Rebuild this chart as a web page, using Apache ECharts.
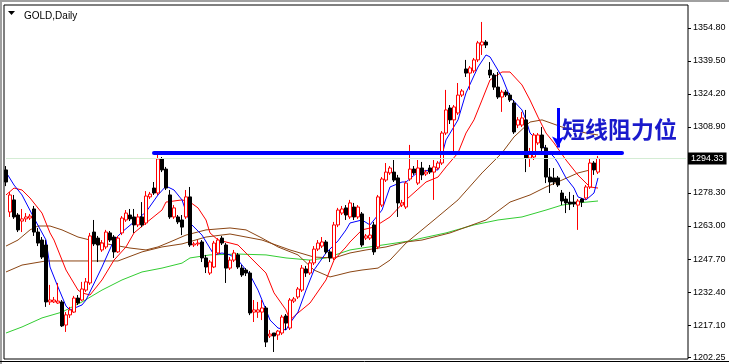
<!DOCTYPE html>
<html>
<head>
<meta charset="utf-8">
<script src="https://cdn.jsdelivr.net/npm/echarts@6/dist/echarts.min.js"></script>
<style>html,body{margin:0;padding:0;background:#fff;}#c{width:729px;height:364px;}</style>
</head>
<body>
<div id="c"></div>
<script>
// ---- data ----
const title = 'GOLD,Daily';
const annotation = '短线阻力位';
const currentPrice = 1294.33;
const resistance = 1297.1;
const arrowFrom = 1317.7;
const arrowTo = 1299.4;
const tickValues = [1202.25, 1217.10, 1232.40, 1247.70, 1263.00, 1278.30, 1308.90, 1324.20, 1339.50, 1354.80];
const slotCount = 171;
const categories = Array.from({length: slotCount}, (_, i) => 'D' + (i + 1));

// [open, close, low, high]
const candles = [
[1289.0,1283.4,1281.5,1290.8],[1269.5,1277.4,1267.2,1278.8],[1275.1,1267.2,1266.3,1277.4],[1268.1,1261.2,1260.2,1269.0],
[1265.3,1266.3,1260.2,1270.9],[1266.3,1267.2,1264.9,1269.0],[1266.7,1267.6,1265.8,1268.6],[1270.9,1260.2,1258.4,1272.3],
[1260.2,1255.1,1253.7,1262.1],[1256.5,1248.6,1247.7,1257.9],[1254.2,1227.8,1225.5,1256.5],[1227.8,1228.7,1226.4,1235.7],
[1227.8,1228.7,1227.3,1230.1],[1227.3,1228.2,1226.9,1236.6],[1227.8,1216.7,1216.2,1228.7],[1217.1,1221.8,1213.9,1223.1],
[1221.8,1224.1,1220.4,1225.5],[1223.1,1229.6,1222.7,1230.6],[1229.6,1227.3,1226.4,1231.0],[1228.7,1233.8,1228.2,1237.1],
[1233.3,1237.1,1232.4,1238.9],[1236.6,1258.4,1235.7,1259.8],[1260.2,1254.7,1253.7,1265.8],[1257.4,1254.2,1246.3,1258.4],
[1251.9,1255.1,1251.0,1256.5],[1253.3,1260.2,1252.3,1261.2],[1259.8,1256.5,1255.6,1260.7],[1257.9,1251.0,1248.2,1258.8],
[1251.0,1257.4,1250.5,1258.4],[1259.8,1266.7,1258.8,1267.6],[1265.8,1269.0,1264.9,1270.4],[1268.1,1266.3,1265.3,1270.9],
[1267.2,1263.5,1259.8,1270.9],[1263.5,1267.2,1262.5,1268.6],[1267.2,1263.5,1262.5,1274.1],[1264.4,1276.9,1263.5,1279.2],
[1276.5,1277.8,1275.5,1278.8],[1280.6,1278.3,1277.4,1283.4],[1278.3,1294.1,1277.4,1296.9],[1294.1,1289.0,1288.0,1295.0],
[1289.4,1280.6,1279.7,1290.4],[1277.4,1267.2,1266.3,1279.7],[1267.2,1271.4,1266.3,1272.7],[1267.2,1264.9,1263.9,1268.1],
[1265.8,1262.5,1258.8,1268.1],[1267.2,1276.5,1266.3,1279.7],[1276.5,1254.2,1253.3,1281.1],[1254.2,1254.7,1253.3,1255.6],
[1254.7,1255.1,1253.7,1256.5],[1255.6,1248.2,1246.3,1256.5],[1248.2,1244.0,1241.2,1249.6],[1241.2,1246.3,1240.3,1247.2],
[1244.0,1255.1,1243.5,1256.1],[1250.5,1256.5,1249.6,1257.4],[1257.4,1255.1,1254.2,1258.4],[1254.2,1243.5,1236.6,1255.1],
[1243.5,1247.2,1242.6,1248.6],[1247.2,1250.5,1246.3,1251.9],[1249.6,1244.0,1243.1,1250.5],[1243.5,1240.3,1239.4,1244.9],
[1242.6,1241.2,1239.8,1243.5],[1241.2,1222.7,1221.7,1242.1],[1223.1,1224.1,1218.5,1228.7],[1223.1,1224.1,1220.4,1227.8],
[1223.1,1225.0,1219.4,1228.7],[1225.0,1209.2,1206.9,1225.9],[1212.0,1212.9,1211.1,1214.8],[1213.4,1212.0,1204.6,1213.4],
[1212.5,1214.3,1210.2,1214.8],[1213.4,1220.8,1212.5,1221.8],[1221.3,1218.0,1214.8,1222.2],[1215.7,1228.7,1214.8,1229.6],
[1228.2,1229.2,1227.3,1230.1],[1230.1,1233.8,1229.2,1234.7],[1233.3,1243.5,1232.4,1244.9],[1243.1,1241.2,1239.4,1244.5],
[1241.2,1245.9,1240.3,1247.2],[1245.9,1252.3,1244.9,1253.7],[1252.3,1255.1,1251.4,1256.5],[1253.7,1255.6,1252.8,1257.9],
[1255.6,1251.0,1250.0,1256.5],[1251.0,1248.2,1246.3,1251.9],[1248.2,1263.5,1247.2,1264.9],[1263.5,1270.4,1262.5,1271.4],
[1269.0,1270.9,1268.1,1272.3],[1271.4,1268.1,1265.8,1272.7],[1267.2,1273.7,1266.3,1275.1],[1271.8,1267.2,1265.8,1273.7],
[1267.2,1271.8,1266.3,1272.7],[1268.6,1254.2,1253.3,1269.5],[1257.4,1258.4,1256.5,1259.3],[1257.4,1258.8,1256.5,1267.2],
[1263.5,1251.0,1249.6,1264.9],[1253.3,1276.5,1252.3,1277.4],[1272.7,1284.8,1271.8,1285.7],[1284.3,1288.0,1283.4,1292.2],
[1287.6,1289.9,1286.7,1290.8],[1288.0,1284.3,1283.4,1293.6],[1285.3,1273.7,1267.2,1286.7],[1272.7,1273.7,1271.8,1275.1],
[1271.8,1282.9,1270.9,1283.9],[1284.8,1289.4,1283.9,1300.6],[1289.4,1287.6,1286.7,1290.8],[1282.9,1289.9,1282.0,1293.6],
[1289.9,1286.7,1284.3,1292.7],[1287.1,1288.0,1286.2,1289.0],[1289.9,1288.0,1287.1,1291.3],[1288.0,1290.4,1275.1,1293.6],
[1289.9,1292.2,1289.0,1293.1],[1292.2,1306.1,1291.3,1307.0],[1306.1,1316.8,1305.2,1326.1],[1317.7,1312.2,1310.3,1319.1],
[1312.2,1318.2,1296.9,1319.1],[1315.4,1323.7,1314.5,1329.3],[1323.7,1325.6,1322.8,1326.5],[1335.8,1333.9,1332.1,1340.0],
[1333.9,1336.3,1326.1,1337.2],[1334.9,1340.0,1333.9,1340.9],[1340.0,1347.9,1339.0,1348.8],[1346.9,1348.3,1342.3,1357.6],
[1348.3,1346.9,1345.5,1349.2],[1335.3,1333.0,1331.6,1339.0],[1333.0,1327.4,1326.1,1333.9],[1327.4,1322.8,1321.9,1334.4],
[1322.8,1325.1,1315.9,1326.1],[1325.1,1323.7,1322.8,1326.1],[1323.7,1321.4,1320.5,1324.7],[1320.0,1306.6,1305.7,1321.4],
[1309.8,1312.2,1308.4,1313.5],[1309.8,1313.1,1308.9,1315.9],[1312.2,1294.5,1288.0,1316.8],[1294.5,1297.3,1290.4,1299.2],
[1295.0,1305.2,1293.6,1306.1],[1301.5,1305.2,1300.6,1306.1],[1305.2,1299.2,1296.9,1308.9],[1299.2,1285.7,1282.9,1300.6],
[1285.7,1283.4,1278.3,1289.9],[1285.3,1283.4,1282.0,1289.9],[1285.3,1282.0,1281.1,1286.2],[1278.3,1274.6,1272.7,1279.7],
[1275.5,1273.7,1269.0,1276.9],[1274.1,1273.2,1270.4,1278.8],[1274.1,1273.2,1271.8,1277.4],[1272.7,1274.6,1261.2,1275.5],
[1275.5,1274.1,1271.8,1276.0],[1276.0,1281.1,1275.1,1282.0],[1281.1,1292.2,1280.2,1294.5],[1292.2,1289.0,1286.7,1293.1],
[1288.0,1294.33,1287.1,1295.5]
];

// moving averages: [bar index, price]
const maBlue = [[0,1288.0],[2,1282.0],[4,1277.4],[7,1266.7],[10,1256.5],[11,1244.0],[13,1234.7],[15,1225.9],[16,1224.1],[19,1226.4],[20,1228.7],[24,1244.0],[27,1256.5],[29,1260.2],[32,1264.9],[35,1269.5],[38,1277.4],[40,1281.5],[42,1279.7],[44,1275.1],[46,1264.4],[49,1258.8],[52,1249.6],[54,1250.5],[56,1249.6],[58,1247.2],[61,1240.3],[63,1233.3],[65,1224.1],[66,1219.4],[68,1215.7],[70,1214.8],[71,1218.0],[73,1223.1],[75,1233.3],[77,1242.6],[80,1250.5],[83,1256.1],[85,1261.2],[86,1264.4],[89,1265.8],[91,1263.5],[92,1265.8],[94,1270.4],[96,1281.1],[99,1283.4],[100,1283.4],[103,1288.0],[106,1289.0],[108,1289.0],[110,1302.9],[113,1312.2],[115,1324.7],[118,1336.7],[120,1342.3],[121,1341.4],[124,1332.1],[126,1322.8],[129,1316.8],[130,1312.2],[131,1306.1],[134,1300.6],[137,1295.0],[138,1292.2],[140,1285.3],[142,1280.6],[143,1276.5],[145,1275.1],[147,1278.3],[148,1285.3]];
const maRed = [[0,1277.4],[2,1280.6],[4,1279.7],[6,1276.0],[9,1269.0],[11,1259.8],[12,1256.5],[15,1242.6],[18,1233.3],[19,1232.0],[21,1231.0],[24,1238.0],[27,1247.2],[30,1253.3],[32,1259.8],[35,1264.4],[39,1270.4],[40,1274.1],[44,1275.1],[46,1274.1],[48,1271.4],[50,1265.8],[51,1259.8],[53,1256.5],[58,1254.2],[61,1248.6],[65,1241.2],[67,1232.0],[70,1224.1],[71,1219.4],[73,1222.7],[76,1227.3],[80,1238.0],[82,1247.2],[85,1253.3],[86,1255.6],[89,1261.2],[92,1262.5],[96,1267.2],[100,1275.1],[105,1283.4],[108,1285.7],[110,1290.4],[113,1296.9],[115,1306.1],[117,1312.2],[119,1321.4],[121,1330.7],[124,1334.4],[126,1334.4],[129,1328.4],[131,1321.4],[133,1313.5],[135,1306.1],[137,1301.5],[140,1293.6],[143,1286.6],[146,1281.1],[148,1280.6]];
const maBrownFast = [[0,1253.7],[3,1256.5],[6,1261.2],[8,1263.0],[11,1263.0],[14,1261.2],[18,1257.9],[21,1256.5],[24,1255.1],[31,1252.8],[35,1251.9],[38,1253.3],[41,1255.6],[45,1258.8],[50,1261.2],[56,1262.1],[60,1261.2],[64,1257.4],[68,1253.3],[73,1249.6],[77,1242.6],[81,1239.4],[83,1240.3],[86,1241.7],[89,1242.6],[93,1243.5],[96,1247.2],[100,1255.1],[107,1265.8],[113,1275.1],[119,1287.6],[124,1296.9],[127,1304.3],[131,1311.2],[134,1312.2],[139,1308.9],[145,1306.1],[148,1305.2]];
const maBrownSlow = [[0,1241.7],[4,1244.9],[10,1246.8],[28,1246.8],[34,1251.0],[39,1253.3],[44,1254.7],[50,1257.9],[56,1259.3],[64,1256.5],[71,1251.9],[77,1248.6],[82,1248.2],[86,1250.5],[90,1251.9],[95,1253.3],[100,1255.6],[104,1256.5],[111,1259.8],[120,1265.8],[126,1274.1],[131,1277.4],[135,1281.1],[139,1284.3],[143,1287.6],[148,1289.9]];
const maGreen = [[0,1213.4],[4,1216.2],[9,1220.4],[14,1223.1],[19,1227.8],[24,1233.3],[29,1238.0],[34,1241.7],[39,1243.5],[44,1245.8],[46,1248.2],[51,1249.6],[58,1250.0],[65,1249.6],[70,1248.2],[76,1247.2],[80,1248.2],[86,1251.9],[89,1252.8],[96,1254.7],[101,1256.1],[104,1257.4],[110,1259.8],[117,1263.5],[123,1265.8],[129,1267.2],[135,1270.4],[139,1272.7],[143,1273.7],[148,1274.6]];

// ---- chart ----
const chart = echarts.init(document.getElementById('c'), null, {renderer: 'canvas'});
const FONT = 'Liberation Sans, Arial, sans-serif';
function maSeries(name, data, color) {
  return {name, type: 'line', data, showSymbol: false, symbol: 'none', silent: true,
    lineStyle: {color, width: 1}, z: 3};
}
chart.setOption({
  animation: false,
  backgroundColor: '#fff',
  title: {text: title, left: 19, top: 6, textStyle: {fontSize: 10, fontWeight: 'normal', color: '#000', fontFamily: FONT}},
  grid: {left: 4, top: 5, width: 684, bottom: 5, show: true, borderColor: '#000', borderWidth: 1, backgroundColor: '#fff'},
  xAxis: {type: 'category', data: categories, boundaryGap: true,
    axisLine: {show: false}, axisTick: {show: false}, axisLabel: {show: false}, splitLine: {show: false}},
  yAxis: {type: 'value', position: 'right', min: 1201.35, max: 1365.46, scale: true,
    axisLine: {show: false},
    axisTick: {show: true, length: 3, lineStyle: {color: '#000'}, customValues: tickValues},
    axisLabel: {show: true, customValues: tickValues, margin: 5, fontSize: 9, color: '#000', fontFamily: FONT,
      formatter: v => v.toFixed(2)},
    splitLine: {show: false}},
  graphic: [
    {type: 'rect', shape: {x: 0, y: 0, width: 2, height: 364}, style: {fill: '#a0a0a0'}, silent: true},
    {type: 'rect', shape: {x: 0, y: 0, width: 729, height: 2}, style: {fill: '#a0a0a0'}, silent: true},
    {type: 'line', shape: {x1: 0, y1: 361.5, x2: 729, y2: 361.5}, style: {stroke: '#000', lineWidth: 1}, silent: true},
    {type: 'polygon', shape: {points: [[8, 11], [15, 11], [11.5, 15]]}, style: {fill: '#000'}, silent: true}
  ],
  series: [
    maSeries('green', maGreen, '#32cd32'),
    maSeries('brownSlow', maBrownSlow, '#8b4513'),
    maSeries('brownFast', maBrownFast, '#8b4513'),
    {name: 'GOLD', type: 'candlestick', data: candles, barWidth: 3, z: 4,
      itemStyle: {color: '#ffffff', color0: '#000000', borderColor: '#ff0000', borderColor0: '#000000', borderWidth: 1}},
    maSeries('red', maRed, '#ff0000'),
    Object.assign(maSeries('blue', maBlue, '#0000ff'), {
      markLine: {silent: true, symbol: ['none', 'none'], animation: false,
        data: [
          [{coord: [0, currentPrice], lineStyle: {color: '#d4ecd4', width: 1, type: 'solid'},
            label: {show: true, position: 'end', distance: 2, formatter: () => currentPrice.toFixed(2),
              backgroundColor: '#000', color: '#fff', fontSize: 9, fontFamily: FONT, padding: [2, 3, 1, 3]}},
           {coord: [slotCount - 1, currentPrice]}],
          [{coord: [37, resistance], lineStyle: {color: '#0000ff', width: 4, type: 'solid', cap: 'round'}, label: {show: false}},
           {coord: [154, resistance]}],
          [{coord: [138, arrowFrom], symbol: 'none', lineStyle: {color: '#0000ff', width: 3, type: 'solid'}, label: {show: false}},
           {coord: [138, arrowTo], symbol: 'arrow', symbolSize: [9, 11]}]
        ]},
      markPoint: {silent: true, symbol: 'circle', symbolSize: 0,
        data: [{coord: [140, 1307.8], label: {show: true, position: 'right', distance: -4, formatter: annotation,
          fontSize: 23, color: '#1a1acc', fontFamily: 'Noto Sans CJK SC', fontWeight: 'bold'}}]}
    })
  ]
});
</script>
</body>
</html>
